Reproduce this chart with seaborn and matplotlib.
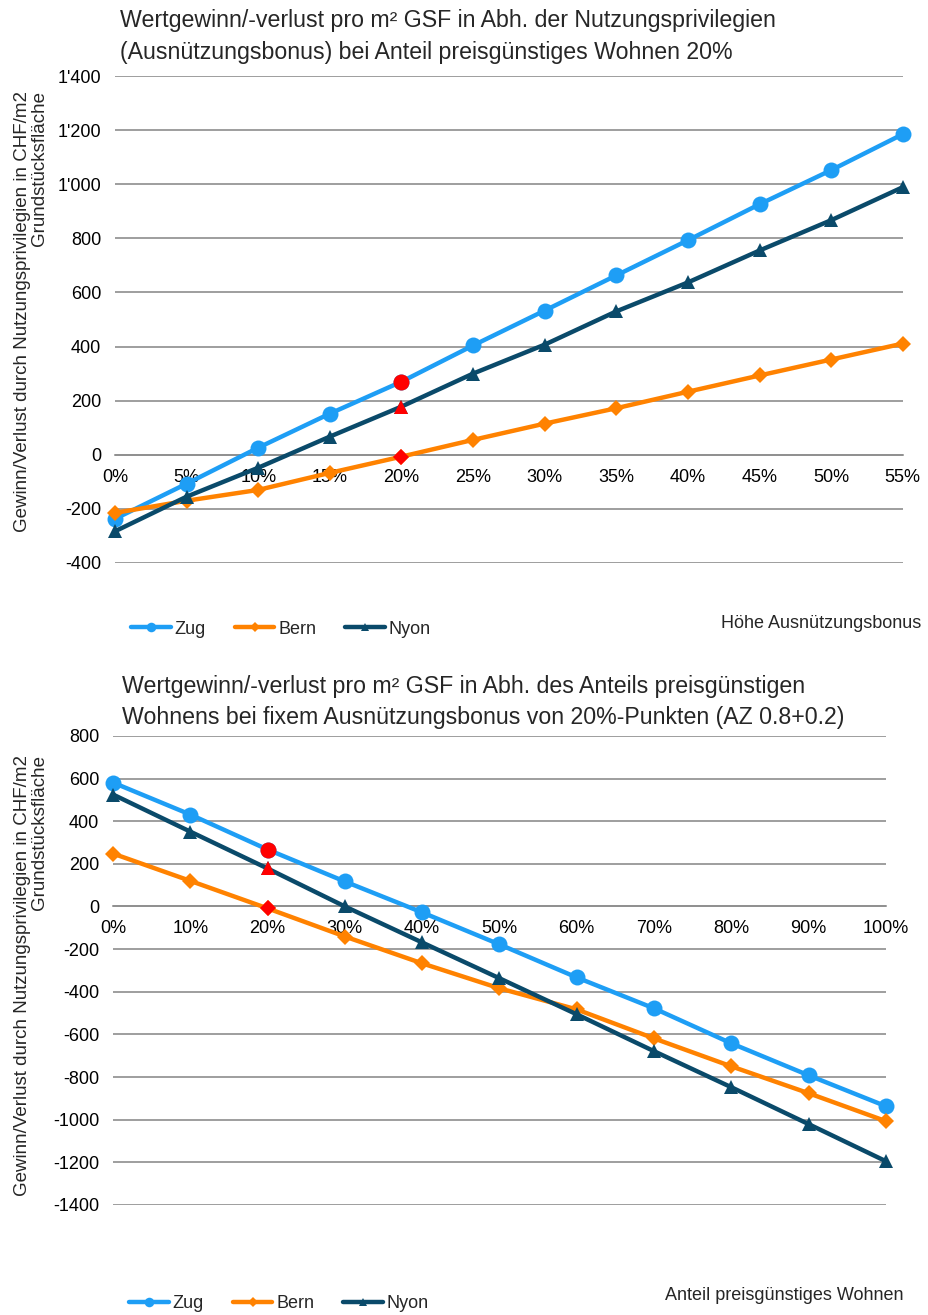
import numpy as np
import pandas as pd
import matplotlib
matplotlib.use("Agg")
import matplotlib.pyplot as plt
import seaborn as sns

# Data
bonus_pct = [0, 5, 10, 15, 20, 25, 30, 35, 40, 45, 50, 55]
zug_bonus = [-237, -107, 26, 152, 270, 404, 533, 663, 793, 926, 1052, 1185]
bern_bonus = [-215, -170, -130, -67, -7, 55, 115, 172, 233, 293, 352, 411]
nyon_bonus = [-283, -155, -48, 67, 178, 300, 407, 530, 637, 755, 867, 989]

share_pct = [0, 10, 20, 30, 40, 50, 60, 70, 80, 90, 100]
zug_share = [581, 431, 267, 117, -28, -178, -333, -478, -642, -792, -937]
bern_share = [248, 120, -9, -141, -267, -384, -483, -619, -750, -876, -1007]
nyon_share = [525, 351, 178, 0, -169, -337, -506, -679, -848, -1021, -1195]

highlight_pct = 20

cities = ["Zug", "Bern", "Nyon"]
colors = {"Zug": "#1e9ef5", "Bern": "#ff8200", "Nyon": "#0a4a6a"}
markers = {"Zug": "o", "Bern": "D", "Nyon": "^"}
msizes = {"Zug": 11.5, "Bern": 8.5, "Nyon": 10.5}

title_top = ("Wertgewinn/-verlust pro m\u00b2 GSF in Abh. der Nutzungsprivilegien\n"
             "(Ausnützungsbonus) bei Anteil preisgünstiges Wohnen 20%")
title_bot = ("Wertgewinn/-verlust pro m\u00b2 GSF in Abh. des Anteils preisgünstigen\n"
             "Wohnens bei fixem Ausnützungsbonus von 20%-Punkten (AZ 0.8+0.2)")
ylabel = "Gewinn/Verlust durch Nutzungsprivilegien in CHF/m2\nGrundstücksfläche"

sns.set_style("white")
plt.rcParams["font.family"] = ["Liberation Sans Narrow", "Liberation Sans", "DejaVu Sans"]
plt.rcParams["font.size"] = 13

grid_col = "#8e8e8e"
fs = 13


def fmt_top(v):
    v = int(v)
    if abs(v) >= 1000:
        s = f"{abs(v):,}".replace(",", "'")
        return ("-" if v < 0 else "") + s
    return str(v)


def draw(ax, x, series, xticks, yticks, ylab_fmt, xlabel, leg_y, xl_y):
    df = pd.DataFrame({"x": x, **series})
    for c in cities:
        sns.lineplot(data=df, x="x", y=c, ax=ax, color=colors[c], marker=markers[c],
                     markersize=msizes[c], markeredgewidth=0, linewidth=3.2,
                     label=c, clip_on=False, zorder=3)
        idx = x.index(highlight_pct)
        ax.plot([x[idx]], [series[c][idx]], linestyle="none", marker=markers[c],
                markersize=msizes[c], markeredgewidth=0, color="#ff0000",
                clip_on=False, zorder=4)
    ax.set_xlim(x[0], x[-1])
    ax.set_ylim(yticks[0], yticks[-1])
    ax.set_yticks(yticks)
    ax.set_yticklabels([ylab_fmt(v) for v in yticks])
    ax.set_xticks(xticks)
    ax.set_xticklabels([f"{t}%" for t in xticks])
    ax.yaxis.grid(True, color=grid_col, linewidth=1.2)
    ax.set_axisbelow(True)
    for s in ["top", "right", "left"]:
        ax.spines[s].set_visible(False)
    ax.spines["bottom"].set_position(("data", 0))
    ax.spines["bottom"].set_color(grid_col)
    ax.spines["bottom"].set_linewidth(1.2)
    ax.tick_params(axis="both", length=0, labelsize=fs, colors="black")
    ax.tick_params(axis="y", pad=10)
    ax.tick_params(axis="x", pad=10)
    ax.set_xlabel("")
    ax.set_ylabel("")
    ax.text(1.023, xl_y, xlabel, transform=ax.transAxes, ha="right", va="center", fontsize=fs)
    ax.legend(loc="center left", bbox_to_anchor=(0.0, leg_y), ncol=3, frameon=False,
              fontsize=fs, markerscale=0.6, handlelength=2.2, handletextpad=0.2,
              columnspacing=1.6)


fig = plt.figure(figsize=(9.29, 13.15), dpi=100)
ax1 = fig.add_axes([0.1238, 0.5719, 0.848, 0.3703])
ax2 = fig.add_axes([0.1216, 0.0837, 0.832, 0.3567])

draw(ax1, bonus_pct, {"Zug": zug_bonus, "Bern": bern_bonus, "Nyon": nyon_bonus},
     bonus_pct, list(range(-400, 1401, 200)), fmt_top, "Höhe Ausnützungsbonus", -0.136, -0.125)
draw(ax2, share_pct, {"Zug": zug_share, "Bern": bern_share, "Nyon": nyon_share},
     share_pct, list(range(-1400, 801, 200)), lambda v: str(int(v)),
     "Anteil preisgünstiges Wohnen", -0.21, -0.193)

fig.text(120 / 929, 1 - 37 / 1315, title_top, ha="left", va="center", fontsize=16.7,
         linespacing=1.5)
fig.text(122 / 929, 1 - 702 / 1315, title_bot, ha="left", va="center", fontsize=16.7,
         linespacing=1.4)
fig.text(31 / 929, 1 - 311 / 1315, ylabel, rotation=90, ha="center", va="center",
         multialignment="right", fontsize=13.5, linespacing=1.05)
fig.text(31 / 929, 1 - 975 / 1315, ylabel, rotation=90, ha="center", va="center",
         multialignment="right", fontsize=13.5, linespacing=1.05)

fig.savefig("out.png", dpi=100)
